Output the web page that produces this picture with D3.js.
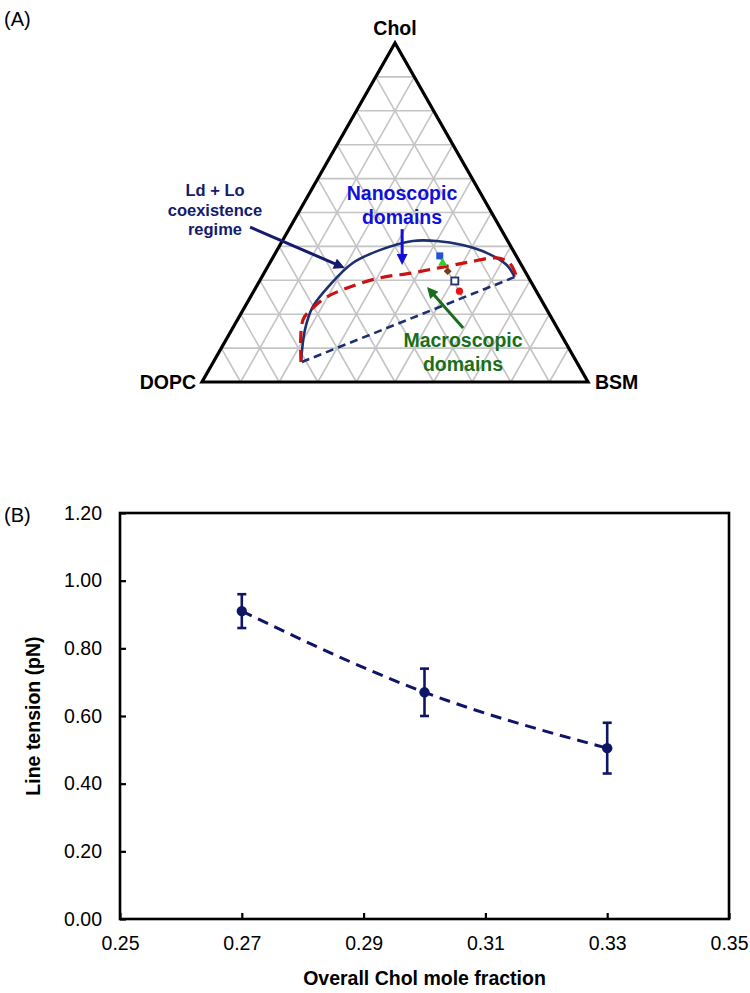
<!DOCTYPE html>
<html><head><meta charset="utf-8">
<script src="https://cdn.jsdelivr.net/npm/d3@7"></script>
<style>body{margin:0;background:#fff} svg{display:block} text{font-family:"Liberation Sans",Arial,sans-serif}</style>
</head><body><svg id="c" width="750" height="993"></svg>
<script>
// ---------- Panel A data (ternary fractions; DOPC = 1 - Chol - BSM) ----------
const vertexLabels = ["DOPC", "BSM", "Chol"];
const gridDivisions = 10;
// Ld + Lo coexistence boundary (solid)
const boundaryChol = [0.059, 0.153, 0.221, 0.286, 0.351, 0.389, 0.416, 0.416, 0.404, 0.381, 0.345, 0.310];
const boundaryBsm  = [0.227, 0.190, 0.176, 0.188, 0.215, 0.266, 0.338, 0.400, 0.473, 0.547, 0.617, 0.655];
// Nanoscopic / macroscopic border (red dashed)
const borderChol = [0.059, 0.183, 0.218, 0.251, 0.280, 0.307, 0.322, 0.339, 0.354, 0.366, 0.351, 0.316];
const borderBsm  = [0.227, 0.170, 0.178, 0.198, 0.243, 0.307, 0.385, 0.454, 0.516, 0.580, 0.621, 0.655];
// tie-line (navy dashed)
const tieChol = [0.059, 0.310];
const tieBsm  = [0.229, 0.656];
// composition markers
const markerKinds = ["blueSquare", "greenTriangle", "brownDiamond", "openSquare", "redCircle"];
const markerChol  = [0.372, 0.351, 0.327, 0.298, 0.268];
const markerBsm   = [0.430, 0.448, 0.473, 0.506, 0.533];
// annotation arrows (ternary start -> tip)
const arrowColors = ["#141a6e", "#1010d8", "#1a6e1a"];
const arrowFromChol = [0.457, 0.451, 0.159];
const arrowFromBsm  = [-0.104, 0.293, 0.597];
const arrowToChol   = [0.336, 0.345, 0.280];
const arrowToBsm    = [0.202, 0.346, 0.443];

// ---------- Panel B data ----------
const cholFraction = [0.27, 0.30, 0.33];
const lineTension  = [0.91, 0.67, 0.505];
const tensionError = [0.05, 0.07, 0.075];
const xTickValues  = [0.25, 0.27, 0.29, 0.31, 0.33, 0.35];
const yTickValues  = [0.00, 0.20, 0.40, 0.60, 0.80, 1.00, 1.20];

const svg = d3.select("#c");
const F = '"Liberation Sans", Arial, sans-serif';

// ================= Panel A =================
const L = {x: 202, y: 382}, R = {x: 588, y: 382}, T = {x: 395, y: 43};
const bsmScaleX = d3.scaleLinear().domain([0, 1]).range([0, R.x - L.x]);
const cholScaleX = d3.scaleLinear().domain([0, 1]).range([0, T.x - L.x]);
const cholScaleY = d3.scaleLinear().domain([0, 1]).range([L.y, T.y]);
const px = (chol, bsm) => [L.x + bsmScaleX(bsm) + cholScaleX(chol), cholScaleY(chol)];

svg.append("text").attr("x", 4).attr("y", 26).attr("font-size", 20).text("(A)");

const gA = svg.append("g");
// grid
const grid = [];
for (let i = 1; i < gridDivisions; i++) {
  const f = i / gridDivisions;
  grid.push([px(f, 0), px(f, 1 - f)]);        // constant Chol
  grid.push([px(0, f), px(1 - f, f)]);        // constant BSM
  grid.push([px(0, 1 - f), px(1 - f, 0)]);    // constant DOPC
}
gA.selectAll("line.grid").data(grid).join("line").attr("class", "grid")
  .attr("x1", d => d[0][0]).attr("y1", d => d[0][1])
  .attr("x2", d => d[1][0]).attr("y2", d => d[1][1])
  .attr("stroke", "#c4c4c4").attr("stroke-width", 1.6);

// outline
gA.append("path")
  .attr("d", d3.line()([px(0, 0), px(0, 1), px(1, 0)]) + "Z")
  .attr("fill", "none").attr("stroke", "#000").attr("stroke-width", 3.2).attr("stroke-linejoin", "miter");

// vertex labels
const vPos = [[px(0, 0)[0] - 6, px(0, 0)[1] + 7, "end"], [px(0, 1)[0] + 7, px(0, 1)[1] + 7, "start"], [px(1, 0)[0], px(1, 0)[1] - 8, "middle"]];
vertexLabels.forEach((t, i) => {
  gA.append("text").attr("x", vPos[i][0]).attr("y", vPos[i][1]).attr("text-anchor", vPos[i][2])
    .attr("font-size", 19.5).attr("font-weight", "bold").text(t);
});

const tline = d3.line().curve(d3.curveCatmullRom.alpha(0.5));
// tie line
gA.append("path").attr("d", d3.line()(tieChol.map((c, i) => px(c, tieBsm[i]))))
  .attr("fill", "none").attr("stroke", "#1c2f6e").attr("stroke-width", 2.6).attr("stroke-dasharray", "8,5");
// boundary
gA.append("path").attr("d", tline(boundaryChol.map((c, i) => px(c, boundaryBsm[i]))))
  .attr("fill", "none").attr("stroke", "#1c2f6e").attr("stroke-width", 2.6);
// red dashed border
gA.append("path").attr("d", tline(borderChol.map((c, i) => px(c, borderBsm[i]))))
  .attr("fill", "none").attr("stroke", "#cc1111").attr("stroke-width", 3.2).attr("stroke-dasharray", "12,7");

// markers
markerKinds.forEach((k, i) => {
  const [x, y] = px(markerChol[i], markerBsm[i]);
  if (k === "blueSquare") gA.append("rect").attr("x", x - 3.5).attr("y", y - 3.5).attr("width", 7).attr("height", 7).attr("fill", "#1f55d6");
  if (k === "greenTriangle") gA.append("path").attr("d", d3.symbol(d3.symbolTriangle, 36)()).attr("transform", `translate(${x},${y})`).attr("fill", "#33cc33");
  if (k === "brownDiamond") gA.append("rect").attr("x", -2.8).attr("y", -2.8).attr("width", 5.6).attr("height", 5.6).attr("transform", `translate(${x},${y}) rotate(45)`).attr("fill", "#7a3c12");
  if (k === "openSquare") gA.append("rect").attr("x", x - 3.5).attr("y", y - 3.5).attr("width", 7).attr("height", 7).attr("fill", "#fff").attr("stroke", "#1c2f6e").attr("stroke-width", 1.8);
  if (k === "redCircle") gA.append("circle").attr("cx", x).attr("cy", y).attr("r", 3.6).attr("fill", "#ee1111");
});

// arrows
const defs = svg.append("defs");
arrowColors.forEach((c, i) => {
  defs.append("marker").attr("id", "ah" + i).attr("viewBox", "0 0 10 10").attr("refX", 10).attr("refY", 5)
    .attr("markerUnits", "userSpaceOnUse").attr("markerWidth", 13).attr("markerHeight", 11).attr("orient", "auto")
    .append("path").attr("d", "M0,0L10,5L0,10Z").attr("fill", c);
  const a = px(arrowFromChol[i], arrowFromBsm[i]), b = px(arrowToChol[i], arrowToBsm[i]);
  const dx = b[0] - a[0], dy = b[1] - a[1], len = Math.hypot(dx, dy);
  const e = [b[0] - dx / len * 8, b[1] - dy / len * 8];
  gA.append("line").attr("x1", a[0]).attr("y1", a[1]).attr("x2", e[0]).attr("y2", e[1])
    .attr("stroke", c).attr("stroke-width", 3);
  gA.append("line").attr("x1", e[0]).attr("y1", e[1]).attr("x2", b[0]).attr("y2", b[1])
    .attr("stroke", "none").attr("marker-end", `url(#ah${i})`);
});

// annotation labels
function label(lines, x, y0, dy, size, color) {
  lines.forEach((t, i) => gA.append("text").attr("x", x).attr("y", y0 + i * dy).attr("text-anchor", "middle")
    .attr("font-size", size).attr("font-weight", "bold").attr("fill", color).text(t));
}
label(["Ld + Lo", "coexistence", "regime"], 215, 196, 19.5, 16.5, "#141a6e");
label(["Nanoscopic", "domains"], 402, 200, 24, 19.5, "#1010d8");
label(["Macroscopic", "domains"], 463, 347, 23.5, 19.5, "#1a6e1a");

// ================= Panel B =================
const m = {l: 120, r: 729, t: 513, b: 919};
const x = d3.scaleLinear().domain([0.25, 0.35]).range([m.l, m.r]);
const y = d3.scaleLinear().domain([0, 1.2]).range([m.b, m.t]);

svg.append("text").attr("x", 4).attr("y", 522).attr("font-size", 20).text("(B)");

const gB = svg.append("g");
const xAxis = gB.append("g").attr("transform", `translate(0,${m.b})`)
  .call(d3.axisBottom(x).tickValues(xTickValues).tickFormat(d3.format(".2f")).tickSize(-6).tickPadding(17));
const yAxis = gB.append("g").attr("transform", `translate(${m.l},0)`)
  .call(d3.axisLeft(y).tickValues(yTickValues).tickFormat(d3.format(".2f")).tickSize(-6).tickPadding(18));
[xAxis, yAxis].forEach(a => {
  a.select(".domain").remove();
  a.selectAll(".tick line").attr("stroke", "#000").attr("stroke-width", 2.2);
  a.selectAll(".tick text").attr("font-size", 19.5).attr("font-family", F).attr("fill", "#000");
});
gB.append("rect").attr("x", m.l).attr("y", m.t).attr("width", m.r - m.l).attr("height", m.b - m.t)
  .attr("fill", "none").attr("stroke", "#000").attr("stroke-width", 2.6);

// titles
gB.append("text").attr("x", (m.l + m.r) / 2).attr("y", 985).attr("text-anchor", "middle")
  .attr("font-size", 19.5).attr("font-weight", "bold").text("Overall Chol mole fraction");
gB.append("text").attr("transform", `translate(40,${(m.t + m.b) / 2}) rotate(-90)`).attr("text-anchor", "middle")
  .attr("font-size", 19.5).attr("font-weight", "bold").text("Line tension (pN)");

const pts = cholFraction.map((c, i) => ({x: c, y: lineTension[i], e: tensionError[i]}));
const navy = "#0f1566";
gB.append("path").attr("d", d3.line().x(d => x(d.x)).y(d => y(d.y)).curve(d3.curveNatural)(pts))
  .attr("fill", "none").attr("stroke", navy).attr("stroke-width", 3).attr("stroke-dasharray", "11,7");
const eb = gB.selectAll("g.eb").data(pts).join("g").attr("class", "eb");
eb.append("line").attr("x1", d => x(d.x)).attr("x2", d => x(d.x)).attr("y1", d => y(d.y - d.e)).attr("y2", d => y(d.y + d.e))
  .attr("stroke", navy).attr("stroke-width", 2.6);
eb.selectAll("line.cap").data(d => [[d.x, d.y - d.e], [d.x, d.y + d.e]]).join("line").attr("class", "cap")
  .attr("x1", d => x(d[0]) - 4.5).attr("x2", d => x(d[0]) + 4.5).attr("y1", d => y(d[1])).attr("y2", d => y(d[1]))
  .attr("stroke", navy).attr("stroke-width", 2.6);
eb.append("circle").attr("cx", d => x(d.x)).attr("cy", d => y(d.y)).attr("r", 5.2).attr("fill", navy);
</script></body></html>
